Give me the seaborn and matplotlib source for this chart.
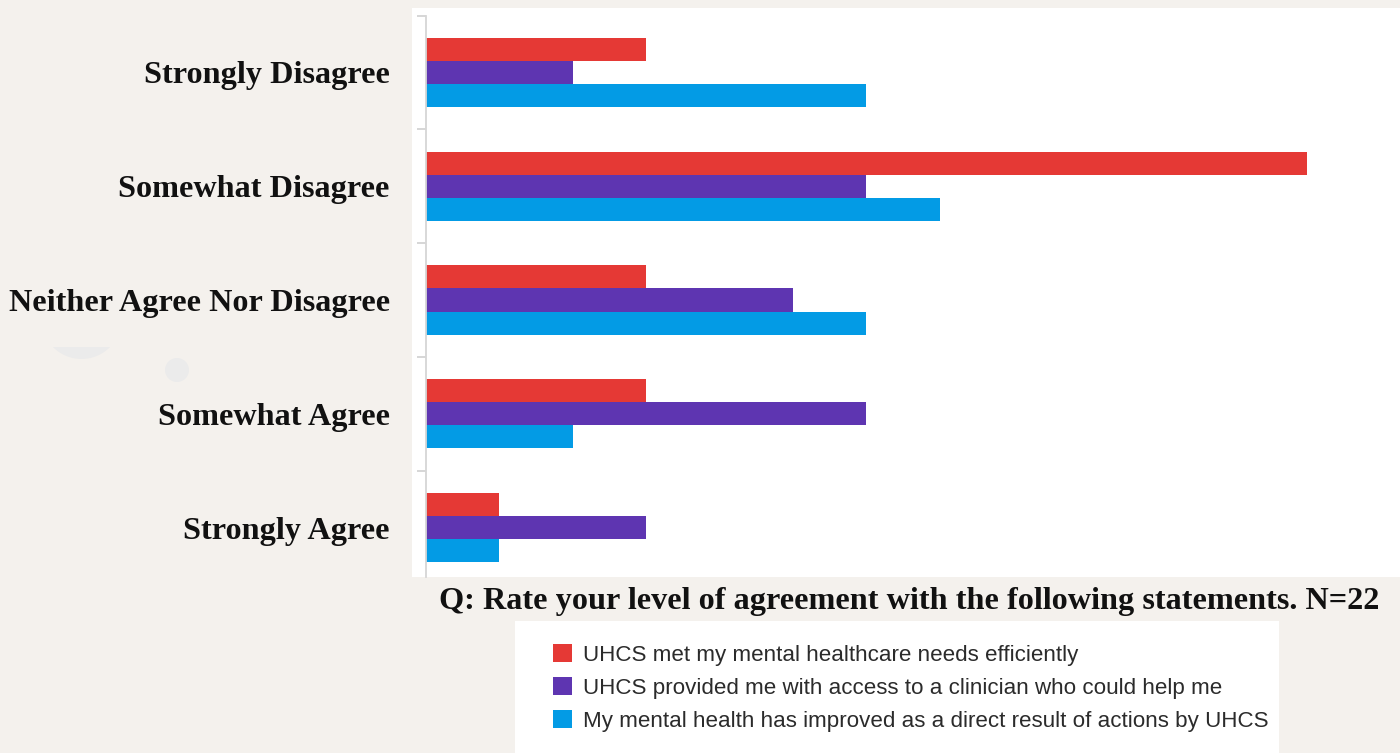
import matplotlib
matplotlib.use("Agg")
import matplotlib.pyplot as plt
from matplotlib.patches import Rectangle, Ellipse
import seaborn as sns
import pandas as pd

categories = ["Strongly Disagree", "Somewhat Disagree", "Neither Agree Nor Disagree",
              "Somewhat Agree", "Strongly Agree"]
series_names = ["UHCS met my mental healthcare needs efficiently",
                "UHCS provided me with access to a clinician who could help me",
                "My mental health has improved as a direct result of actions by UHCS"]
met_needs = [3, 12, 3, 3, 1]
clinician_access = [2, 6, 5, 6, 3]
health_improved = [6, 7, 6, 2, 1]
title_text = "Q: Rate your level of agreement with the following statements. N=22"

colors = ["#e53935", "#5e35b1", "#039be5"]
BG = "#f4f1ed"

rows = []
for name, vals in zip(series_names, [met_needs, clinician_access, health_improved]):
    for c, v in zip(categories, vals):
        rows.append({"category": c, "series": name, "count": v})
df = pd.DataFrame(rows)

sns.set_theme(style="white")
W, H = 1400, 753
fig = plt.figure(figsize=(W / 100, H / 100), dpi=100, facecolor=BG)

# faint background decorations
seg = Ellipse((81.5 / W, 1 - 319 / H), 80 / W, 80 / H, transform=fig.transFigure,
              facecolor="#ebebeb", edgecolor="none", zorder=-2)
fig.add_artist(seg)
clip = Rectangle((0, 0), 1, 1 - 347 / H, transform=fig.transFigure)
seg.set_clip_path(clip)
fig.add_artist(Ellipse((177 / W, 1 - 370 / H), 24 / W, 24 / H, transform=fig.transFigure,
                       facecolor="#ebebeb", edgecolor="none", zorder=-2))

# legend box (behind the axes so the legend stays visible)
fig.add_artist(Rectangle((515 / W, 0), 764 / W, (H - 621) / H, transform=fig.transFigure,
                         facecolor="white", edgecolor="none", zorder=-1))

ax = fig.add_axes([412 / W, 1 - 577 / H, 988 / W, 569 / H])
ax.set_facecolor("white")

sns.barplot(data=df, y="category", x="count", hue="series", order=categories,
            hue_order=series_names, palette=colors, orient="h", width=0.607,
            saturation=1, ax=ax, linewidth=0)

ax.set_xlim(-0.19, 13.27)
ax.set_ylim(4.435, -0.567)
ax.set_xlabel("")
ax.set_ylabel("")
ax.set_xticks([])

for s in ["top", "right", "bottom"]:
    ax.spines[s].set_visible(False)
ax.spines["left"].set_position(("data", 0))
ax.spines["left"].set_bounds(-0.5, 4.435)
ax.spines["left"].set_color("#d6d6d6")
ax.spines["left"].set_linewidth(1.3)

ax.set_yticks([-0.5, 0.5, 1.5, 2.5, 3.5], minor=True)
ax.tick_params(axis="y", which="minor", length=6.5, width=1.2, color="#d0d0d0", direction="out", left=True)
ax.tick_params(axis="y", which="major", length=0, pad=26)
for lab in ax.get_yticklabels():
    lab.set_family(["Liberation Serif", "DejaVu Serif"])
    lab.set_fontweight("bold")
    lab.set_fontsize(23.2)
    lab.set_color("#111111")

fig.text(909 / W, 1 - 602 / H, title_text, ha="center", va="center",
         family=["Liberation Serif", "DejaVu Serif"], fontweight="bold", fontsize=23.2,
         color="#111111")

sns.move_legend(ax, loc="upper left", bbox_to_anchor=(553 / W, 1 - 644 / H),
                bbox_transform=fig.transFigure, frameon=False, title=None,
                borderpad=0, borderaxespad=0, handlelength=0.86, handleheight=0.86,
                handletextpad=0.5, labelspacing=0.5,
                prop={"family": ["Liberation Sans", "DejaVu Sans"], "size": 16.1})
leg = ax.get_legend()
for t in leg.get_texts():
    t.set_color("#2b2b2b")

fig.savefig("out.png", dpi=100, facecolor=BG)
